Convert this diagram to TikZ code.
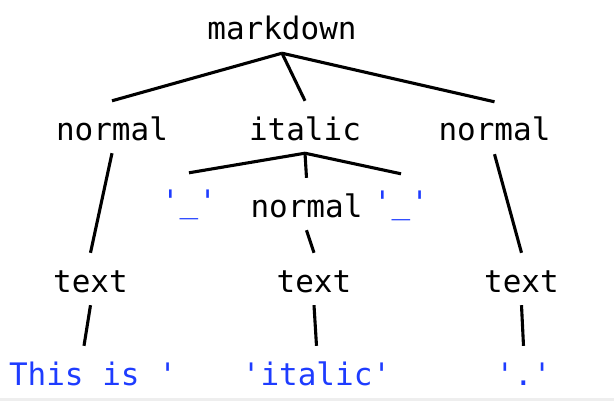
\documentclass[tikz,border=0pt]{standalone}
\usepackage{fontspec}
\setmonofont{DejaVu Sans Mono}
\definecolor{leafblue}{HTML}{1E3CFF}
\definecolor{rulegray}{HTML}{EEEEEE}
\begin{document}
\begin{tikzpicture}[x=1pt,y=-1pt,
  lbl/.style={font=\ttfamily\fontsize{31}{31}\selectfont, anchor=base,
    text height=29pt, text depth=3pt, inner xsep=0pt, inner ysep=10pt},
  leaf/.style={lbl, text=leafblue},
  edge/.style={draw=black, line width=3.1pt}]
\useasboundingbox (0,0) rectangle (614,404);
\fill[rulegray] (0,398) rectangle (614,400.5);
% nodes
\node[lbl]  (md) at (282,40)  {markdown};
\node[lbl]  (n1) at (112,140) {normal};
\node[lbl]  (it) at (305,140) {italic};
\node[lbl]  (n2) at (494.5,141) {normal};
\node[leaf] (u1) at (189,212) {'\_'};
\node[lbl]  (n3) at (306.5,217) {normal};
\node[leaf] (u2) at (401,213) {'\_'};
\node[lbl]  (t1) at (90.5,292) {text};
\node[lbl]  (t2) at (314,292) {text};
\node[lbl]  (t3) at (521.5,292) {text};
\node[leaf] (l1) at (93,385) {This is '};
\node[leaf] (l2) at (316.5,385) {'italic'};
\node[leaf] (l3) at (523.5,385) {'.'};
% edges
\draw[edge] (md.south) -- (n1.north);
\draw[edge] (md.south) -- (it.north);
\draw[edge] (md.south) -- (n2.north);
\draw[edge] (it.south) -- (u1.north);
\draw[edge] (it.south) -- (n3.north);
\draw[edge] (it.south) -- (u2.north);
\draw[edge] (n1.south) -- (t1.north);
\draw[edge] (n3.south) -- (t2.north);
\draw[edge] (n2.south) -- (t3.north);
\draw[edge] (t1.south) -- ([xshift=-9pt]l1.north);
\draw[edge] (t2.south) -- (l2.north);
\draw[edge] (t3.south) -- (l3.north);
\end{tikzpicture}
\end{document}
